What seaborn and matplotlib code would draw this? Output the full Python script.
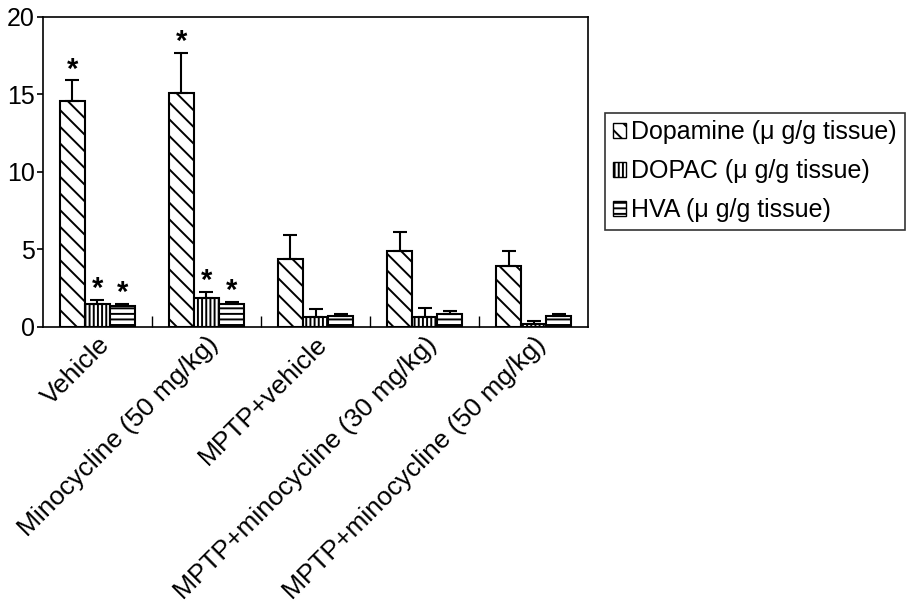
import numpy as np
import pandas as pd
import seaborn as sns
import matplotlib.pyplot as plt
from matplotlib.ticker import FixedLocator

# values
groups = ["Vehicle", "Minocycline (50 mg/kg)", "MPTP+vehicle",
          "MPTP+minocycline (30 mg/kg)", "MPTP+minocycline (50 mg/kg)"]
series = ["Dopamine (\u03bc g/g tissue)", "DOPAC (\u03bc g/g tissue)", "HVA (\u03bc g/g tissue)"]
dopamine = [14.6, 15.1, 4.4, 4.9, 3.95]
dopamine_err = [1.3, 2.6, 1.5, 1.2, 0.95]
dopac = [1.45, 1.85, 0.65, 0.65, 0.2]
dopac_err = [0.3, 0.4, 0.5, 0.55, 0.2]
hva = [1.35, 1.45, 0.7, 0.8, 0.7]
hva_err = [0.15, 0.15, 0.1, 0.2, 0.1]
stars = [[True, True, False, False, False],
         [True, True, False, False, False],
         [True, True, False, False, False]]

values = [dopamine, dopac, hva]
errors = [dopamine_err, dopac_err, hva_err]
hatches = ["\\\\", "||||", "---"]

df = pd.DataFrame({
    "group": groups * 3,
    "series": np.repeat(series, len(groups)),
    "value": dopamine + dopac + hva,
})

sns.set_style("ticks")
plt.rcParams["font.family"] = ["Liberation Sans", "DejaVu Sans"]
plt.rcParams["hatch.linewidth"] = 1.4
plt.rcParams["text.color"] = "black"
plt.rcParams["xtick.color"] = "black"
plt.rcParams["ytick.color"] = "black"

fig = plt.figure(figsize=(9.12, 6.04), dpi=100)
ax = fig.add_axes([0.047, 0.459, 0.598, 0.513])

sns.barplot(data=df, x="group", y="value", hue="series", order=groups,
            hue_order=series, width=0.69, errorbar=None,
            color="white", ax=ax, legend=True)

bar_conts = list(ax.containers)[:3]
for s, cont in enumerate(bar_conts):
    for i, bar in enumerate(cont.patches):
        bar.set_facecolor("white")
        bar.set_edgecolor("black")
        bar.set_linewidth(1.5)
        bar.set_hatch(hatches[s])
        xc = bar.get_x() + bar.get_width() / 2
        v = values[s][i]
        e = errors[s][i]
        ax.errorbar(xc, v, yerr=[[0], [e]], fmt="none", ecolor="black",
                    elinewidth=1.5, capsize=5, capthick=1.5)
        if stars[s][i]:
            ax.text(xc, v + e - 0.2, "*", ha="center", va="bottom",
                    fontsize=21, fontweight="bold")

ax.set_ylim(0, 20)
ax.set_xlim(-0.5, 4.5)
ax.set_yticks([0, 5, 10, 15, 20])
ax.set_xlabel("")
ax.set_ylabel("")
ax.tick_params(axis="y", labelsize=18, length=4, width=1.2, pad=2,
               labelcolor="black")
ax.tick_params(axis="x", which="major", length=0, labelsize=19, pad=4,
               labelcolor="black")
ax.xaxis.set_minor_locator(FixedLocator([0.5, 1.5, 2.5, 3.5]))
ax.tick_params(axis="x", which="minor", direction="in", length=8, width=1)
plt.setp(ax.get_xticklabels(), rotation=45, ha="right", rotation_mode="anchor")
for sp in ax.spines.values():
    sp.set_visible(True)
    sp.set_linewidth(1.2)
    sp.set_color("black")

leg = ax.legend(loc="upper left", bbox_to_anchor=(1.031, 0.69), frameon=True,
                fancybox=False, edgecolor="black", fontsize=18,
                handlelength=0.55, handleheight=0.55, handletextpad=0.2,
                borderpad=0.3, labelspacing=0.6, borderaxespad=0)
leg.get_frame().set_linewidth(1.2)
for t in leg.get_texts():
    t.set_color("black")
for h, hatch in zip(leg.legend_handles, hatches):
    h.set_facecolor("white")
    h.set_edgecolor("black")
    h.set_hatch(hatch)

fig.savefig("out.png", dpi=100)
